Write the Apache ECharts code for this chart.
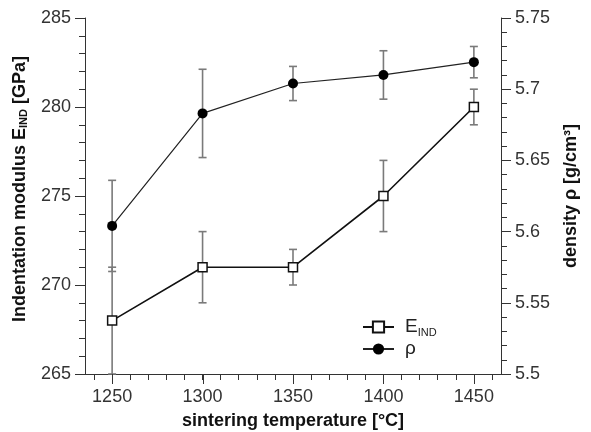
<!DOCTYPE html>
<html>
<head>
<meta charset="utf-8">
<script src="https://cdn.jsdelivr.net/npm/echarts@6/dist/echarts.min.js"></script>
<style>html,body{margin:0;padding:0;background:#fff}#c{width:591px;height:432px}</style>
</head>
<body>
<div id="c"></div>
<script>
var temps = [1250, 1300, 1350, 1400, 1450];
var eInd = [268, 271, 271, 275, 280];
var eErr = [3, 2, 1, 2, 1];
var rho = [5.604, 5.683, 5.704, 5.710, 5.719];
var rhoErr = [0.032, 0.031, 0.012, 0.017, 0.011];
var xMajorTicks = [1250, 1300, 1350, 1400, 1450];
var xAllTicks = [1240, 1250, 1260, 1270, 1280, 1290, 1300, 1310, 1320, 1330, 1340, 1350, 1360, 1370, 1380, 1390, 1400, 1410, 1420, 1430, 1440, 1450, 1460];
var xRange = [1235, 1465];
var eRange = [265, 285];
var rhoRange = [5.5, 5.75];

var FONT = '"Liberation Sans", Arial, sans-serif';
var AX = '#333';

function pts(vals) { return temps.map(function (t, i) { return [t, vals[i]]; }); }
function errData(vals, errs) { return temps.map(function (t, i) { return [t, vals[i] - errs[i], vals[i] + errs[i]]; }); }

function errRender(params, api) {
  var x = api.value(0);
  var lo = api.coord([x, api.value(1)]);
  var hi = api.coord([x, api.value(2)]);
  var w = 4;
  var st = { stroke: '#7a7a7a', lineWidth: 1.6 };
  return {
    type: 'group',
    children: [
      { type: 'line', shape: { x1: lo[0], y1: lo[1], x2: hi[0], y2: hi[1] }, style: st },
      { type: 'line', shape: { x1: lo[0] - w, y1: lo[1], x2: lo[0] + w, y2: lo[1] }, style: st },
      { type: 'line', shape: { x1: hi[0] - w, y1: hi[1], x2: hi[0] + w, y2: hi[1] }, style: st }
    ]
  };
}

var chart = echarts.init(document.getElementById('c'), null, { renderer: 'canvas' });
var titleStyle = { fontFamily: FONT, fontSize: 18, fontWeight: 'bold', color: '#111', padding: [0, 0, 0, 14],
  rich: { sub: { fontFamily: FONT, fontSize: 11, fontWeight: 'bold', color: '#111', verticalAlign: 'bottom', lineHeight: 14 } } };

try {
chart.setOption({
  animation: false,
  backgroundColor: '#fff',
  grid: { left: 85, right: 90, top: 18, bottom: 58, containLabel: false, outerBoundsMode: 'none' },
  legend: {
    orient: 'vertical', left: 357, top: 311, itemWidth: 31, itemHeight: 14, itemGap: 0,
    data: ['E_IND', 'ρ'],
    formatter: function (n) { return n === 'E_IND' ? 'E{sub|IND}' : n; },
    textStyle: { fontFamily: FONT, fontSize: 19, color: '#222', padding: [0, 0, 0, 6], lineHeight: 22,
      rich: { sub: { fontFamily: FONT, fontSize: 11, color: '#222', verticalAlign: 'bottom', lineHeight: 14 } } }
  },
  xAxis: [{
    type: 'value', min: xRange[0], max: xRange[1], position: 'bottom',
    name: 'sintering temperature [°C]', nameLocation: 'middle', nameGap: 38,
    nameTextStyle: { fontFamily: FONT, fontSize: 18, fontWeight: 'bold', color: '#111' },
    axisLine: { show: true, lineStyle: { color: AX, width: 1 } },
    axisTick: { show: true, length: 6, customValues: xAllTicks, lineStyle: { color: AX } },
    axisLabel: { customValues: xMajorTicks, fontFamily: FONT, fontSize: 18, color: '#333', margin: 14,
      formatter: function (v) { return String(v); } },
    splitLine: { show: false }
  }],
  yAxis: [{
    type: 'value', min: eRange[0], max: eRange[1], interval: 5, position: 'left',
    name: 'Indentation modulus E{sub|IND} [GPa]', nameLocation: 'middle', nameGap: 56, nameRotate: 90,
    nameTextStyle: titleStyle,
    axisLine: { show: true, lineStyle: { color: AX, width: 1 } },
    axisTick: { show: true, length: 10, lineStyle: { color: AX } },
    minorTick: { show: true, splitNumber: 5, length: 6, lineStyle: { color: AX } },
    axisLabel: { fontFamily: FONT, fontSize: 18, color: '#333', margin: 14 },
    splitLine: { show: false }
  }, {
    type: 'value', min: rhoRange[0], max: rhoRange[1], interval: 0.05, position: 'right',
    name: 'density ρ [g/cm³]', nameLocation: 'middle', nameGap: 61, nameRotate: 90,
    nameTextStyle: { fontFamily: FONT, fontSize: 18, fontWeight: 'bold', color: '#111' },
    axisLine: { show: true, lineStyle: { color: AX, width: 1 } },
    axisTick: { show: true, length: 10, lineStyle: { color: AX } },
    minorTick: { show: true, splitNumber: 5, length: 6, lineStyle: { color: AX } },
    axisLabel: { fontFamily: FONT, fontSize: 18, color: '#333', margin: 14,
      formatter: function (v) { return String(Math.round(v * 100) / 100); } },
    splitLine: { show: false }
  }],
  series: [
    { type: 'custom', name: 'errE', xAxisIndex: 0, yAxisIndex: 0, renderItem: errRender,
      data: errData(eInd, eErr), z: 1, encode: { x: 0, y: [1, 2] } },
    { type: 'custom', name: 'errRho', xAxisIndex: 0, yAxisIndex: 1, renderItem: errRender,
      data: errData(rho, rhoErr), z: 1, encode: { x: 0, y: [1, 2] } },
    { type: 'line', name: 'E_IND', xAxisIndex: 0, yAxisIndex: 0, data: pts(eInd), z: 3,
      symbol: 'rect', symbolSize: 9, showAllSymbol: true,
      lineStyle: { color: '#111', width: 1.6 },
      itemStyle: { color: '#fff', borderColor: '#111', borderWidth: 1.5 } },
    { type: 'line', name: 'ρ', xAxisIndex: 0, yAxisIndex: 1, data: pts(rho), z: 3,
      symbol: 'circle', symbolSize: 10, showAllSymbol: true,
      lineStyle: { color: '#222', width: 1.2 },
      itemStyle: { color: '#000', borderColor: '#000', borderWidth: 0 } }
  ]
});
} catch (e) { console.error(e); }

// lengthen the major x ticks, positioned through the series' coordinate system
try {
  var tickEls = xMajorTicks.map(function (v) {
    var p = chart.convertToPixel({ seriesIndex: 2 }, [v, eRange[0]]);
    var x = Math.round(p[0]) + 0.5;
    return { type: 'line', silent: true, z: 100,
      shape: { x1: x, y1: p[1], x2: x, y2: p[1] + 10 },
      style: { stroke: AX, lineWidth: 1 } };
  });
  chart.setOption({ graphic: tickEls });
} catch (e) { console.error(e); }
</script>
</body>
</html>
